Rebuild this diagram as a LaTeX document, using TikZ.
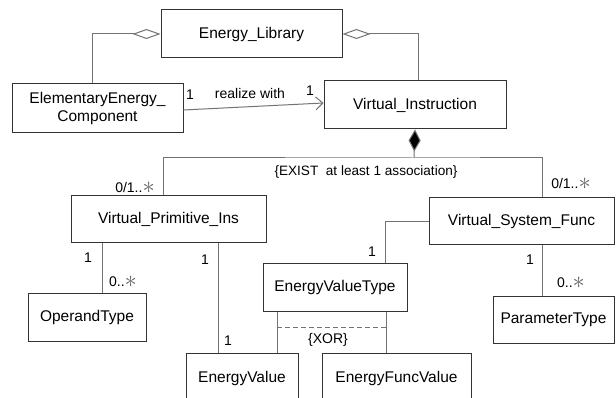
\documentclass[tikz,border=0pt]{standalone}
\usepackage{fontspec}
\setmainfont{Liberation Sans}
\usepackage{graphicx}
\usetikzlibrary{arrows.meta}

\newcommand{\manystar}{\textcolor{black!60}{\raisebox{-0.05em}{\scalebox{1.7}{$\ast$}}}}

\begin{document}
\begin{tikzpicture}[
    x=1pt, y=-1pt,
    cls/.style={draw=black!80, line width=1pt, align=center, inner sep=0pt, font=\fontsize{15.5}{18}\selectfont},
    conn/.style={draw=black!55, line width=1pt},
    agg/.style={conn, {Diamond[open, fill=white, length=28pt, width=10pt]}-},
    comp/.style={conn, {Diamond[fill=black, length=22pt, width=12pt]}-},
    nav/.style={conn, -{Straight Barb[length=7pt, width=13pt]}},
    mult/.style={font=\fontsize{14}{16}\selectfont, inner sep=0pt},
    note/.style={font=\fontsize{13.6}{16}\selectfont, inner sep=0pt}
]
    \clip (0,0) rectangle (616,398);
    \fill[white] (0,0) rectangle (616,398);

    % classes
    \node[cls, minimum width=181pt, minimum height=48pt] (lib) at (251.5,34) {Energy\_Library};
    \node[cls, minimum width=171pt, minimum height=49pt] (eec) at (97.5,108.5) {ElementaryEnergy\_\\Component};
    \node[cls, minimum width=182pt, minimum height=48pt] (vi) at (415,105) {Virtual\_Instruction};
    \node[cls, minimum width=195pt, minimum height=47pt] (vpi) at (168.5,219.5) {Virtual\_Primitive\_Ins};
    \node[cls, minimum width=185pt, minimum height=47pt] (vsf) at (521.5,221.5) {Virtual\_System\_Func};
    \node[cls, minimum width=118pt, minimum height=48pt] (opt) at (87,317) {OperandType};
    \node[cls, minimum width=144pt, minimum height=47pt] (evt) at (335,287.5) {EnergyValueType};
    \node[cls, minimum width=121pt, minimum height=47pt] (pt) at (553.5,319.5) {ParameterType};
    \node[cls, minimum width=112pt, minimum height=50pt] (ev) at (242,378) {EnergyValue};
    \node[cls, minimum width=149pt, minimum height=50pt] (efv) at (396.5,378) {EnergyFuncValue};

    % aggregation to the library
    \draw[agg] (lib.west) -| ([xshift=-5.5]eec.north);
    \draw[agg] (lib.east) -| ([xshift=3]vi.north);

    % realize with
    \draw[nav] ([yshift=-1.5]eec.east) -- ([yshift=2]vi.west);
    \node[mult] (m1) at (190,95) {1};
    \node[mult] (rw) at (250,93) {realize with};
    \node[mult] (m2) at (310,91) {1};

    % composition of the instruction
    \coordinate (junc) at (414,158);
    \draw[comp] (vi.south) -- (junc);
    \draw[conn] ([xshift=-5.5]vpi.north) |- (junc) -| ([xshift=20.5]vsf.north);
    \node[note] (exist) at (366,172) {\{EXIST\ \ at least 1 association\}};
    \node[mult] (m3) at (135,188) {0/1..\manystar};
    \node[mult] (m4) at (571,184) {0/1..\manystar};

    % primitive instruction
    \draw[conn] ([xshift=-66.5]vpi.south) -- ([xshift=15]opt.north);
    \node[mult] (m5) at (88,258) {1};
    \node[mult] (m6) at (123,282) {0..\manystar};
    \draw[conn] ([xshift=49.5]vpi.south) -- ([xshift=-24]ev.north);
    \node[mult] (m7) at (205,260) {1};
    \node[mult] (m8) at (228,341) {1};

    % system function
    \draw[conn] (vsf.west) -| ([xshift=50]evt.north);
    \node[mult] (m9) at (372,252) {1};
    \draw[conn] ([xshift=20.5]vsf.south) -- ([xshift=-11.5]pt.north);
    \node[mult] (m10) at (530,260) {1};
    \node[mult] (m11) at (571,283) {0..\manystar};

    % value type
    \draw[conn] ([xshift=-58]evt.south) -- ([xshift=35]ev.north);
    \draw[conn] ([xshift=51]evt.south) -- ([xshift=-10.5]efv.north);
    \coordinate (xl) at (277,327);
    \coordinate (xr) at (386,327);
    \draw[conn, dashed, dash pattern=on 5pt off 3pt] (xl) -- (xr);
    \node[mult] (xor) at (328,340) {\{XOR\}};
\end{tikzpicture}
\end{document}
